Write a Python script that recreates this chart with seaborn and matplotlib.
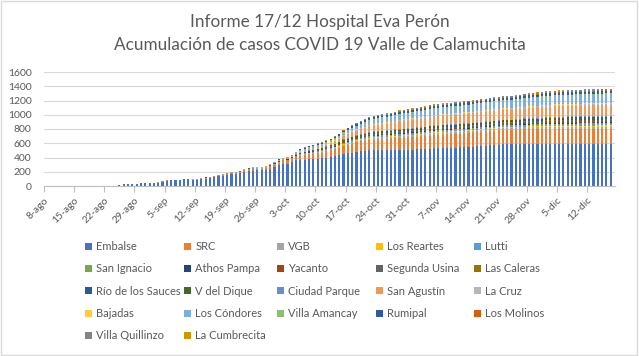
import matplotlib
matplotlib.use("Agg")
import matplotlib.pyplot as plt
import seaborn as sns
import pandas as pd
from matplotlib.patches import Patch, Rectangle

# days counted from 8-ago; bars run from 25-ago to 17-dic
first_day = 17
tick_labels = ["8-ago", "15-ago", "22-ago", "29-ago", "5-sep", "12-sep", "19-sep",
               "26-sep", "3-oct", "10-oct", "17-oct", "24-oct", "31-oct", "7-nov",
               "14-nov", "21-nov", "28-nov", "5-dic", "12-dic"]

embalse = [10, 22, 22, 27, 31, 36, 36, 40, 40, 44,
           62, 76, 80, 80, 80, 82, 82, 84, 88, 97,
           105, 113, 126, 138, 146, 158, 165, 172, 180, 198,
           212, 215, 218, 218, 230, 245, 265, 290, 305, 315,
           335, 360, 365, 370, 375, 380, 385, 389, 400, 410,
           420, 430, 445, 458, 470, 482, 490, 495, 500, 502,
           505, 505, 505, 505, 505, 505, 508, 510, 512, 515,
           518, 520, 524, 529, 530, 532, 535, 538, 540, 542,
           545, 548, 552, 555, 560, 565, 570, 575, 580, 585,
           585, 585, 585, 585, 585, 585, 585, 585, 585, 585,
           585, 585, 585, 585, 585, 585, 585, 585, 585, 585,
           585, 585, 585, 585, 585]
src = [0, 2, 2, 2, 3, 3, 3, 4, 4, 5,
       5, 6, 6, 6, 6, 6, 6, 7, 7, 8,
       8, 9, 10, 12, 13, 14, 15, 16, 17, 20,
       22, 24, 25, 26, 28, 30, 34, 38, 42, 45,
       48, 55, 62, 66, 70, 72, 75, 80, 85, 92,
       100, 108, 115, 120, 125, 130, 135, 140, 145, 148,
       150, 153, 156, 160, 163, 166, 169, 172, 175, 177,
       179, 181, 183, 185, 187, 189, 190, 191, 193, 194,
       195, 196, 197, 198, 200, 201, 202, 203, 204, 205,
       206, 207, 207, 208, 208, 209, 209, 210, 210, 211,
       211, 212, 212, 212, 213, 213, 213, 214, 214, 214,
       214, 215, 215, 215, 215]
vgb = [0, 1, 1, 1, 1, 1, 1, 1, 1, 1,
       1, 1, 2, 2, 2, 2, 2, 2, 2, 2,
       2, 2, 3, 3, 3, 3, 3, 4, 4, 4,
       4, 4, 4, 4, 5, 5, 5, 6, 6, 6,
       6, 7, 9, 10, 11, 12, 13, 14, 14, 14,
       15, 16, 18, 18, 19, 19, 20, 20, 21, 22,
       23, 23, 23, 23, 24, 25, 25, 25, 25, 25,
       25, 26, 27, 27, 27, 27, 27, 27, 27, 27,
       27, 27, 27, 27, 27, 27, 27, 27, 27, 27,
       27, 27, 28, 29, 30, 30, 31, 31, 32, 33,
       33, 33, 34, 34, 34, 34, 34, 34, 35, 35,
       35, 35, 35, 35, 35]
los_reartes = [0, 0, 0, 0, 0, 0, 0, 0, 0, 0,
               0, 0, 0, 0, 0, 0, 0, 0, 0, 0,
               0, 0, 0, 0, 0, 0, 0, 0, 0, 1,
               1, 1, 1, 1, 1, 1, 1, 1, 1, 1,
               1, 1, 2, 3, 4, 4, 5, 5, 5, 6,
               6, 6, 7, 7, 8, 8, 8, 8, 9, 9,
               9, 9, 9, 10, 10, 10, 10, 10, 10, 10,
               10, 10, 11, 11, 11, 11, 11, 11, 11, 11,
               11, 11, 11, 11, 11, 11, 11, 11, 11, 11,
               11, 11, 11, 12, 12, 12, 13, 13, 13, 14,
               14, 14, 14, 14, 14, 14, 14, 15, 15, 15,
               15, 15, 15, 15, 15]
lutti = [0, 0, 0, 0, 0, 0, 0, 0, 0, 0,
         1, 1, 1, 1, 1, 1, 1, 1, 1, 1,
         1, 1, 1, 1, 1, 1, 1, 1, 1, 2,
         2, 2, 2, 2, 2, 2, 3, 3, 3, 3,
         3, 4, 6, 7, 8, 9, 10, 10, 10, 10,
         10, 11, 13, 13, 13, 13, 13, 14, 15, 15,
         15, 15, 15, 15, 16, 17, 17, 17, 17, 17,
         17, 17, 18, 18, 18, 18, 18, 18, 18, 18,
         18, 18, 18, 18, 18, 18, 18, 18, 18, 18,
         18, 18, 19, 19, 20, 20, 20, 21, 21, 22,
         22, 22, 22, 23, 23, 23, 23, 23, 23, 23,
         23, 24, 24, 24, 25]
san_ignacio = [0, 0, 0, 0, 0, 0, 0, 0, 0, 0,
               0, 0, 0, 0, 0, 0, 0, 0, 0, 0,
               0, 0, 0, 0, 0, 0, 0, 0, 0, 0,
               0, 0, 0, 0, 0, 0, 0, 0, 1, 1,
               1, 1, 1, 1, 2, 2, 2, 3, 3, 3,
               3, 3, 4, 4, 4, 4, 5, 5, 5, 5,
               5, 5, 5, 6, 6, 6, 6, 6, 6, 6,
               6, 6, 6, 6, 6, 6, 6, 6, 6, 6,
               6, 6, 6, 6, 6, 6, 6, 6, 6, 6,
               6, 6, 6, 7, 7, 7, 7, 7, 7, 8,
               8, 8, 8, 8, 8, 8, 8, 8, 8, 8,
               8, 8, 8, 8, 8]
athos_pampa = [0, 0, 0, 0, 0, 0, 0, 0, 0, 0,
               0, 0, 0, 0, 0, 0, 0, 0, 0, 0,
               0, 0, 0, 0, 0, 0, 0, 0, 0, 0,
               0, 0, 0, 0, 0, 0, 1, 1, 1, 1,
               1, 1, 2, 2, 2, 3, 3, 3, 4, 4,
               4, 4, 5, 5, 5, 6, 6, 6, 6, 6,
               7, 7, 7, 7, 7, 7, 7, 7, 7, 7,
               7, 8, 8, 8, 8, 8, 8, 8, 8, 8,
               8, 8, 8, 8, 8, 8, 8, 8, 8, 8,
               8, 8, 8, 8, 9, 9, 9, 9, 9, 9,
               9, 10, 10, 10, 10, 10, 10, 10, 10, 10,
               10, 10, 10, 10, 10]
yacanto = [0, 0, 0, 0, 0, 0, 0, 0, 0, 0,
           0, 0, 0, 0, 0, 0, 0, 0, 0, 0,
           0, 0, 0, 0, 0, 0, 0, 0, 0, 0,
           0, 0, 0, 0, 0, 0, 0, 0, 0, 1,
           1, 1, 1, 2, 2, 3, 3, 4, 4, 5,
           5, 5, 6, 6, 7, 7, 7, 7, 8, 8,
           8, 8, 8, 8, 9, 9, 9, 9, 9, 9,
           9, 9, 9, 9, 9, 9, 9, 9, 9, 9,
           9, 9, 9, 9, 9, 9, 9, 9, 9, 9,
           9, 9, 10, 10, 10, 11, 11, 11, 11, 11,
           11, 11, 11, 11, 12, 12, 12, 12, 12, 12,
           12, 12, 12, 12, 12]
segunda_usina = [0, 0, 0, 0, 0, 0, 0, 0, 0, 0,
                 1, 1, 1, 1, 1, 1, 1, 1, 1, 1,
                 2, 2, 2, 2, 2, 3, 3, 3, 3, 3,
                 3, 3, 3, 3, 3, 3, 4, 4, 4, 4,
                 4, 5, 7, 8, 9, 9, 10, 10, 10, 10,
                 11, 11, 13, 13, 13, 14, 14, 14, 15, 15,
                 16, 16, 16, 16, 17, 17, 17, 17, 17, 17,
                 18, 18, 19, 19, 19, 19, 19, 19, 19, 19,
                 19, 19, 19, 19, 19, 19, 19, 19, 19, 19,
                 19, 19, 20, 20, 21, 21, 21, 22, 22, 23,
                 23, 23, 24, 24, 24, 24, 24, 24, 24, 24,
                 24, 24, 24, 25, 25]
las_caleras = [0, 0, 0, 0, 0, 0, 0, 0, 0, 0,
               0, 0, 0, 0, 0, 0, 0, 0, 0, 0,
               0, 0, 0, 0, 0, 0, 0, 0, 0, 0,
               0, 0, 0, 0, 0, 0, 0, 0, 0, 0,
               0, 0, 0, 1, 1, 1, 1, 1, 1, 1,
               1, 1, 2, 2, 2, 2, 2, 2, 3, 3,
               3, 3, 3, 3, 3, 3, 3, 3, 3, 3,
               3, 3, 4, 4, 4, 4, 4, 4, 4, 4,
               4, 4, 4, 4, 4, 4, 4, 4, 4, 4,
               4, 4, 4, 4, 4, 4, 4, 5, 5, 5,
               5, 5, 5, 5, 5, 5, 5, 5, 5, 5,
               5, 5, 5, 5, 5]
rio_sauces = [0, 0, 0, 0, 0, 0, 0, 0, 0, 0,
              0, 0, 0, 0, 0, 0, 0, 0, 0, 0,
              0, 0, 0, 0, 0, 0, 0, 0, 0, 0,
              0, 0, 0, 0, 0, 0, 0, 1, 1, 1,
              1, 1, 1, 2, 2, 2, 3, 3, 3, 3,
              4, 4, 4, 5, 5, 5, 5, 6, 6, 6,
              6, 6, 7, 7, 7, 7, 7, 7, 7, 7,
              7, 7, 7, 8, 8, 8, 8, 8, 8, 8,
              8, 8, 8, 8, 8, 8, 8, 8, 8, 8,
              8, 8, 8, 8, 9, 9, 9, 9, 9, 9,
              9, 9, 10, 10, 10, 10, 10, 10, 10, 10,
              10, 10, 10, 10, 10]
v_del_dique = [0, 0, 0, 0, 0, 0, 0, 0, 0, 0,
               1, 1, 1, 1, 1, 1, 1, 1, 1, 1,
               1, 1, 1, 2, 2, 2, 2, 2, 2, 3,
               3, 3, 3, 3, 3, 3, 4, 4, 4, 4,
               5, 6, 8, 9, 10, 10, 11, 12, 12, 12,
               12, 13, 15, 15, 15, 16, 16, 16, 17, 17,
               17, 17, 18, 18, 18, 19, 19, 19, 19, 19,
               19, 19, 20, 20, 20, 20, 20, 20, 20, 20,
               20, 20, 20, 20, 20, 20, 20, 20, 20, 20,
               20, 20, 20, 21, 21, 22, 22, 22, 23, 23,
               23, 24, 24, 24, 24, 24, 24, 24, 24, 24,
               24, 24, 25, 25, 25]
ciudad_parque = [0, 0, 0, 0, 0, 0, 0, 0, 0, 0,
                 0, 0, 0, 0, 0, 0, 0, 0, 0, 0,
                 0, 0, 0, 0, 0, 0, 0, 0, 0, 0,
                 0, 0, 0, 0, 0, 0, 1, 1, 1, 1,
                 1, 1, 2, 3, 3, 4, 4, 4, 5, 5,
                 5, 6, 6, 7, 7, 7, 8, 8, 8, 9,
                 9, 9, 9, 9, 10, 10, 10, 10, 10, 10,
                 10, 10, 11, 11, 11, 11, 11, 11, 11, 11,
                 11, 11, 11, 11, 11, 11, 11, 11, 11, 11,
                 11, 11, 11, 12, 12, 12, 13, 13, 13, 14,
                 14, 14, 14, 14, 14, 14, 14, 14, 15, 15,
                 15, 15, 15, 15, 15]
san_agustin = [0, 0, 0, 0, 0, 0, 0, 0, 0, 0,
               0, 0, 0, 0, 0, 0, 0, 0, 0, 0,
               0, 0, 0, 0, 0, 0, 1, 1, 2, 3,
               4, 5, 5, 5, 6, 7, 8, 10, 11, 12,
               13, 15, 16, 17, 18, 18, 19, 20, 22, 26,
               32, 40, 48, 52, 58, 64, 70, 75, 82, 86,
               90, 93, 96, 99, 102, 105, 108, 110, 112, 114,
               116, 117, 118, 120, 121, 122, 123, 124, 125, 126,
               128, 129, 130, 132, 133, 134, 135, 136, 137, 138,
               139, 140, 141, 142, 143, 143, 144, 144, 145, 145,
               146, 146, 147, 147, 148, 148, 148, 149, 149, 149,
               150, 150, 150, 150, 150]
la_cruz = [0, 0, 0, 0, 0, 0, 0, 0, 0, 0,
           0, 0, 0, 0, 0, 0, 0, 0, 0, 0,
           0, 0, 0, 0, 0, 0, 0, 0, 0, 0,
           0, 0, 0, 0, 0, 1, 1, 1, 1, 1,
           1, 2, 3, 4, 5, 6, 6, 7, 7, 7,
           8, 8, 9, 10, 10, 11, 11, 11, 12, 12,
           12, 13, 13, 13, 13, 14, 14, 14, 14, 14,
           14, 15, 15, 15, 15, 15, 15, 15, 15, 15,
           15, 15, 15, 15, 15, 15, 15, 15, 15, 15,
           15, 15, 15, 16, 16, 17, 17, 17, 18, 18,
           18, 19, 19, 19, 19, 19, 19, 19, 19, 19,
           19, 19, 20, 20, 20]
bajadas = [0, 0, 0, 0, 0, 0, 0, 0, 0, 0,
           0, 0, 0, 0, 0, 0, 0, 0, 0, 0,
           0, 0, 0, 0, 0, 0, 0, 0, 0, 0,
           0, 0, 0, 0, 0, 0, 0, 0, 0, 0,
           0, 0, 1, 1, 1, 2, 2, 2, 3, 3,
           3, 3, 4, 4, 4, 5, 5, 5, 5, 6,
           6, 6, 6, 6, 6, 7, 7, 7, 7, 7,
           7, 7, 7, 7, 8, 8, 8, 8, 8, 8,
           8, 8, 8, 8, 8, 8, 8, 8, 8, 8,
           8, 8, 8, 8, 8, 9, 9, 9, 9, 9,
           9, 9, 9, 9, 9, 10, 10, 10, 10, 10,
           10, 10, 10, 10, 10]
los_condores = [0, 0, 0, 0, 0, 0, 0, 0, 0, 0,
                0, 0, 0, 0, 0, 0, 0, 0, 0, 0,
                0, 0, 0, 0, 1, 1, 1, 2, 2, 3,
                3, 4, 4, 4, 5, 6, 7, 9, 10, 11,
                12, 14, 16, 17, 18, 18, 19, 20, 21, 23,
                26, 30, 35, 40, 44, 48, 52, 56, 60, 62,
                63, 65, 67, 69, 71, 73, 75, 77, 79, 81,
                83, 84, 85, 86, 87, 88, 89, 90, 91, 92,
                94, 95, 96, 98, 99, 100, 101, 102, 103, 104,
                105, 106, 107, 108, 109, 110, 111, 112, 113, 114,
                115, 115, 116, 116, 117, 117, 118, 118, 118, 119,
                119, 119, 120, 120, 120]
villa_amancay = [0, 0, 0, 0, 0, 0, 0, 0, 0, 0,
                 0, 0, 0, 0, 0, 0, 0, 0, 0, 0,
                 0, 0, 0, 0, 0, 0, 0, 0, 0, 0,
                 0, 0, 0, 0, 0, 0, 0, 0, 1, 1,
                 1, 1, 2, 2, 3, 3, 4, 4, 4, 5,
                 5, 6, 6, 7, 7, 7, 8, 8, 8, 9,
                 9, 9, 9, 9, 10, 10, 10, 10, 10, 10,
                 10, 10, 10, 11, 11, 11, 11, 11, 11, 11,
                 11, 11, 11, 11, 11, 11, 11, 11, 11, 11,
                 11, 11, 11, 11, 12, 12, 12, 13, 13, 13,
                 13, 14, 14, 14, 14, 14, 14, 14, 14, 14,
                 14, 14, 15, 15, 15]
rumipal = [0, 0, 0, 0, 0, 0, 0, 0, 0, 0,
           0, 0, 0, 0, 0, 0, 0, 0, 1, 1,
           1, 1, 1, 1, 1, 2, 2, 2, 2, 2,
           3, 3, 3, 3, 3, 3, 4, 4, 4, 4,
           5, 7, 10, 12, 13, 14, 15, 16, 16, 16,
           16, 18, 21, 22, 22, 22, 23, 24, 25, 25,
           26, 26, 26, 26, 27, 28, 28, 28, 28, 28,
           28, 28, 29, 29, 29, 29, 29, 29, 29, 29,
           29, 29, 29, 29, 29, 29, 29, 29, 29, 29,
           29, 29, 29, 30, 31, 31, 31, 31, 32, 33,
           33, 33, 34, 34, 34, 34, 34, 34, 34, 34,
           34, 34, 34, 35, 35]
los_molinos = [0, 0, 0, 0, 0, 0, 0, 0, 0, 0,
               0, 0, 0, 0, 0, 0, 0, 0, 0, 0,
               0, 0, 0, 0, 0, 0, 0, 0, 0, 0,
               0, 0, 0, 0, 0, 0, 0, 0, 0, 0,
               0, 0, 0, 1, 1, 1, 1, 2, 2, 2,
               2, 2, 3, 3, 3, 3, 4, 4, 4, 4,
               4, 4, 5, 5, 5, 5, 5, 5, 5, 5,
               5, 5, 5, 5, 6, 6, 6, 6, 6, 6,
               6, 6, 6, 6, 6, 6, 6, 6, 6, 6,
               6, 6, 6, 6, 7, 7, 7, 7, 7, 7,
               7, 7, 7, 8, 8, 8, 8, 8, 8, 8,
               8, 8, 8, 8, 8]
villa_quillinzo = [0, 0, 0, 0, 0, 0, 0, 0, 0, 0,
                   0, 0, 0, 0, 0, 0, 0, 0, 0, 0,
                   0, 0, 0, 0, 0, 0, 0, 0, 0, 0,
                   0, 0, 0, 0, 1, 1, 1, 1, 1, 1,
                   1, 2, 3, 4, 5, 5, 6, 6, 7, 7,
                   7, 8, 9, 9, 10, 10, 11, 11, 12, 12,
                   12, 12, 13, 13, 13, 14, 14, 14, 14, 14,
                   14, 14, 15, 15, 15, 15, 15, 15, 15, 15,
                   15, 15, 15, 15, 15, 15, 15, 15, 15, 15,
                   15, 15, 16, 16, 17, 17, 17, 18, 18, 19,
                   19, 19, 19, 19, 19, 19, 19, 19, 20, 20,
                   20, 20, 20, 20, 20]
la_cumbrecita = [0, 0, 0, 0, 0, 0, 0, 0, 0, 0,
                 0, 0, 0, 0, 0, 0, 0, 0, 0, 0,
                 0, 0, 0, 0, 0, 0, 0, 0, 0, 0,
                 0, 0, 0, 0, 0, 0, 0, 0, 0, 0,
                 0, 0, 0, 0, 1, 1, 1, 1, 1, 1,
                 1, 1, 1, 1, 2, 2, 2, 2, 2, 2,
                 2, 2, 2, 2, 3, 3, 3, 3, 3, 3,
                 3, 3, 3, 3, 3, 3, 3, 3, 3, 3,
                 3, 3, 3, 3, 3, 3, 3, 3, 3, 3,
                 3, 3, 3, 4, 4, 4, 4, 4, 4, 4,
                 4, 4, 4, 4, 4, 5, 5, 5, 5, 5,
                 5, 5, 5, 5, 5]

series = {
    "Embalse": embalse, "SRC": src, "VGB": vgb, "Los Reartes": los_reartes,
    "Lutti": lutti, "San Ignacio": san_ignacio, "Athos Pampa": athos_pampa,
    "Yacanto": yacanto, "Segunda Usina": segunda_usina, "Las Caleras": las_caleras,
    "Río de los Sauces": rio_sauces, "V del Dique": v_del_dique,
    "Ciudad Parque": ciudad_parque, "San Agustín": san_agustin, "La Cruz": la_cruz,
    "Bajadas": bajadas, "Los Cóndores": los_condores, "Villa Amancay": villa_amancay,
    "Rumipal": rumipal, "Los Molinos": los_molinos, "Villa Quillinzo": villa_quillinzo,
    "La Cumbrecita": la_cumbrecita,
}
colors = ["#4472C4", "#ED7D31", "#A5A5A5", "#FFC000", "#5B9BD5", "#70AD47",
          "#264478", "#9E480E", "#636363", "#997300", "#255E91", "#43682B",
          "#698ED0", "#F1975A", "#B7B7B7", "#FFCD33", "#7CAFDD", "#8CC168",
          "#335AA1", "#D26012", "#848484", "#CC9A00"]

for name, vals in series.items():
    assert len(vals) == 115, (name, len(vals))

df = pd.DataFrame(series)
df["day"] = range(first_day, first_day + len(df))

sns.set_theme(style="white")
plt.rcParams["font.family"] = ["Lato", "DejaVu Sans"]
grey = "#595959"

fig = plt.figure(figsize=(6.39, 3.56), dpi=100)
ax = fig.add_axes([44 / 639, 1 - 186 / 356, (615 - 44) / 639, (186 - 72) / 356])

bottom = pd.Series(0, index=df.index)
handles = []
for name, col in zip(series.keys(), colors):
    ax.bar(df["day"] + 0.5, df[name], bottom=bottom, width=0.5, color=col,
           linewidth=0)
    bottom = bottom + df[name]
    handles.append(Patch(facecolor=col, edgecolor="none", label=name))

ax.set_xlim(0, 132.5)
ax.set_ylim(0, 1600)
ax.set_yticks(range(0, 1601, 200))
ax.set_xticks(range(0, 7 * len(tick_labels), 7))
ax.set_xticklabels(tick_labels, rotation=45, ha="right", rotation_mode="anchor")
ax.tick_params(axis="x", colors="#BFBFBF", labelcolor=grey, labelsize=7.5,
               length=4, width=0.8, direction="out", bottom=True, pad=3)
ax.tick_params(axis="y", labelcolor=grey, labelsize=7.5, length=0, pad=9)
ax.yaxis.grid(True, color="#D9D9D9", linewidth=0.8)
ax.set_axisbelow(True)
for s in ["top", "right", "left"]:
    ax.spines[s].set_visible(False)
ax.spines["bottom"].set_color("#BFBFBF")
ax.spines["bottom"].set_linewidth(0.8)
ax.set_xlabel("")
ax.set_ylabel("")

fig.text(0.5, 1 - 22 / 356, "Informe 17/12 Hospital Eva Perón", ha="center",
         va="center", fontsize=12.3, color=grey)
fig.text(0.5, 1 - 45 / 356, "Acumulación de casos COVID 19 Valle de Calamuchita",
         ha="center", va="center", fontsize=12.3, color=grey)

col_x = [85, 184, 277, 376, 474]
for c in range(5):
    fig.legend(handles=handles[c::5], loc="upper left",
               bbox_to_anchor=(col_x[c] / 639, 1 - 241 / 356), frameon=False,
               fontsize=8, labelcolor=grey, handlelength=0.6, handleheight=0.6,
               handletextpad=0.4, labelspacing=1.02, borderpad=0, borderaxespad=0)

fig.patches.append(Rectangle((0.002, 0.003), 0.995, 0.994, transform=fig.transFigure,
                             fill=False, edgecolor="#D9D9D9", linewidth=1))

fig.savefig("out.png", dpi=100)
